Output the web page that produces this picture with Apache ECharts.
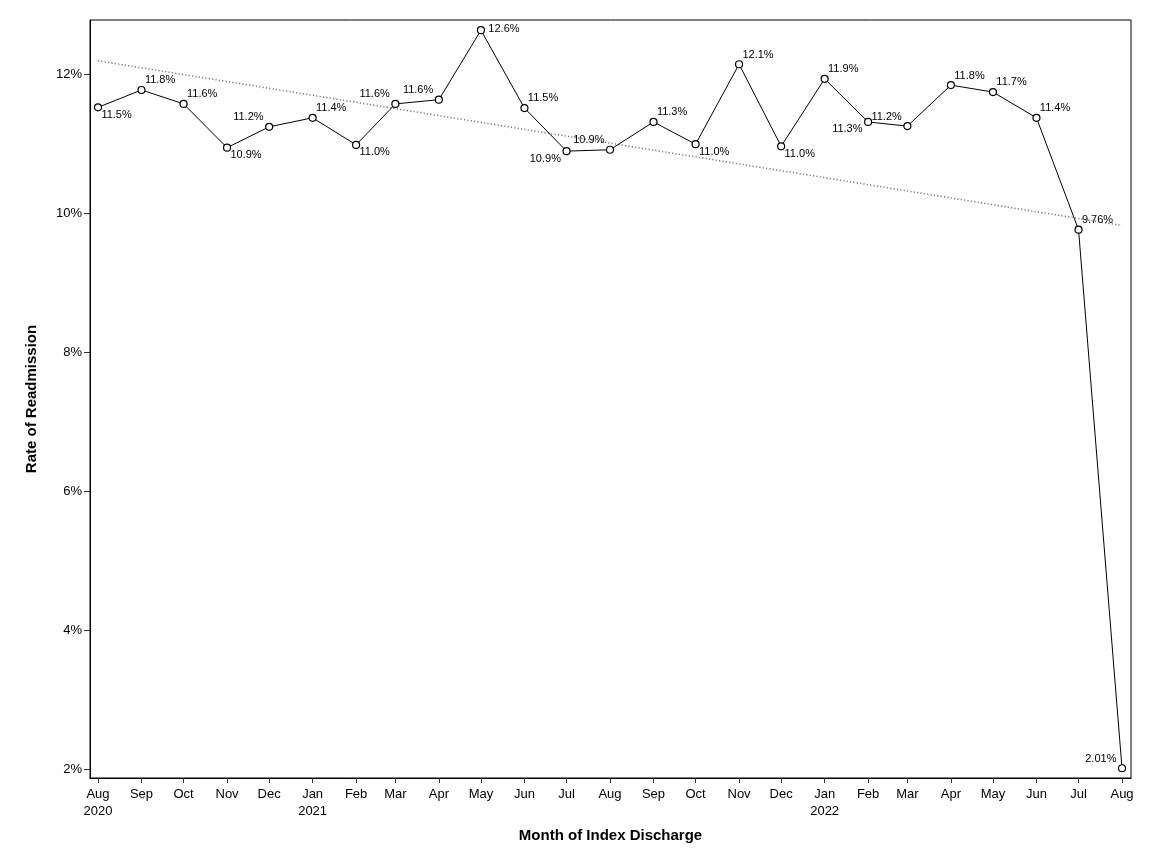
<!DOCTYPE html>
<html>
<head>
<meta charset="utf-8">
<script src="https://cdn.jsdelivr.net/npm/echarts@6/dist/echarts.min.js"></script>
<style>
  html, body { margin: 0; padding: 0; background: #fff; }
  #chart { width: 1152px; height: 864px; }
</style>
</head>
<body>
<div id="chart"></div>
<script>
// months of index discharge, Aug 2020 .. Aug 2022
let months = [
  "2020-08", "2020-09", "2020-10", "2020-11", "2020-12",
  "2021-01", "2021-02", "2021-03", "2021-04", "2021-05", "2021-06",
  "2021-07", "2021-08", "2021-09", "2021-10", "2021-11", "2021-12",
  "2022-01", "2022-02", "2022-03", "2022-04", "2022-05", "2022-06",
  "2022-07", "2022-08"
]
// rate of readmission, percent
let rates = [
  11.52, 11.77, 11.57, 10.94, 11.24, 11.37, 10.98, 11.57, 11.63, 12.63,
  11.51, 10.89, 10.91, 11.31, 10.99, 12.14, 10.96, 11.93, 11.31, 11.25,
  11.84, 11.74, 11.37, 9.76, 2.01
]
// text shown beside each point
let rateLabels = [
  "11.5%", "11.8%", "11.6%", "10.9%", "11.2%", "11.4%", "11.0%", "11.6%",
  "11.6%", "12.6%", "11.5%", "10.9%", "10.9%", "11.3%", "11.0%", "12.1%",
  "11.0%", "11.9%", "11.3%", "11.2%", "11.8%", "11.7%", "11.4%", "9.76%",
  "2.01%"
]
// linear trend, value at first and last month
let trendEnds = [12.19, 9.82]
// y tick labels
let yTicks = [2, 4, 6, 8, 10, 12]

// where each label sits: r = right, l = left, a = above, b = below
let placement = [
  "rb", "ra", "ra", "rb", "la", "ra", "rb", "la", "la", "r", "ra", "lb",
  "la", "ra", "rb", "ra", "rb", "ra", "lb", "la", "ra", "ra", "ra", "ra", "la"
]

let monthNames = ["Jan", "Feb", "Mar", "Apr", "May", "Jun", "Jul", "Aug", "Sep", "Oct", "Nov", "Dec"]

// x is counted in days since the first month
let DAY = 86400000
let t0 = Date.UTC(2020, 7, 1)
function toDay(s) {
  let p = s.split("-")
  return Math.round((Date.UTC(+p[0], +p[1] - 1, 1) - t0) / DAY)
}
let days = months.map(toDay)

let SYM = 7
function labelFor(code) {
  let dx = code[0] === "r" ? 4 : -5
  let dy = 0
  if (code[1] === "a") dy = -9
  if (code[1] === "b") dy = 8
  if (code === "r") { dx = 8; dy = -1 }
  // position is measured from the symbol's top-left corner
  return {
    show: true,
    position: [SYM / 2 + dx, SYM / 2 + dy],
    align: code[0] === "r" ? "left" : "right",
    verticalAlign: "middle",
    color: "#000",
    fontSize: 11,
    fontFamily: "Liberation Sans"
  }
}

let pointData = []
for (let i = 0; i < days.length; i++) {
  let lab = labelFor(placement[i])
  lab.formatter = rateLabels[i]
  pointData.push({ value: [days[i], rates[i]], label: lab })
}

let trendData = [
  [days[0], trendEnds[0]],
  [days[days.length - 1], trendEnds[1]]
]

let myChart = echarts.init(document.getElementById("chart"))
let option = {
  animation: false,
  textStyle: { fontFamily: "Liberation Sans" },
  grid: {
    left: 90,
    right: 21,
    top: 20,
    bottom: 86,
    show: true,
    borderColor: "#000",
    borderWidth: 1
  },
  xAxis: {
    type: "value",
    min: -5.7,
    max: days[days.length - 1] + 6.4,
    name: "Month of Index Discharge",
    nameLocation: "middle",
    nameGap: 50,
    nameTextStyle: { fontSize: 15, fontWeight: "bold", color: "#000" },
    axisLine: { show: true, onZero: false, lineStyle: { color: "#000", width: 1 } },
    axisTick: {
      show: true,
      length: 5,
      customValues: days,
      lineStyle: { color: "#333" }
    },
    axisLabel: {
      customValues: days,
      fontSize: 13,
      color: "#000",
      lineHeight: 17,
      margin: 8,
      formatter: function (v) {
        let d = new Date(t0 + v * DAY)
        let m = d.getUTCMonth()
        let txt = monthNames[m]
        if (m === 0 || v === days[0]) txt += "\n" + d.getUTCFullYear()
        return txt
      }
    },
    splitLine: { show: false }
  },
  yAxis: {
    type: "value",
    min: 1.87,
    max: 12.777,
    name: "Rate of Readmission",
    nameLocation: "middle",
    nameGap: 51,
    nameTextStyle: { fontSize: 15, fontWeight: "bold", color: "#000" },
    axisLine: { show: true, onZero: false, lineStyle: { color: "#000", width: 1 } },
    axisTick: {
      show: true,
      length: 6,
      customValues: yTicks,
      lineStyle: { color: "#333" }
    },
    axisLabel: {
      customValues: yTicks,
      fontSize: 13,
      color: "#000",
      margin: 8,
      formatter: function (v) { return v + "%" }
    },
    splitLine: { show: false }
  },
  series: [
    {
      // dotted linear trend
      type: "line",
      data: trendData,
      symbol: "none",
      silent: true,
      lineStyle: { color: "#777", width: 1.5, type: [1.2, 2.2] },
      z: 1
    },
    {
      type: "line",
      data: pointData,
      symbol: "circle",
      symbolSize: SYM,
      showAllSymbol: true,
      lineStyle: { color: "#000", width: 1 },
      itemStyle: { color: "#fff", borderColor: "#000", borderWidth: 1.2 },
      labelLayout: { hideOverlap: false },
      z: 2
    }
  ]
}
myChart.setOption(option)
</script>
</body>
</html>
